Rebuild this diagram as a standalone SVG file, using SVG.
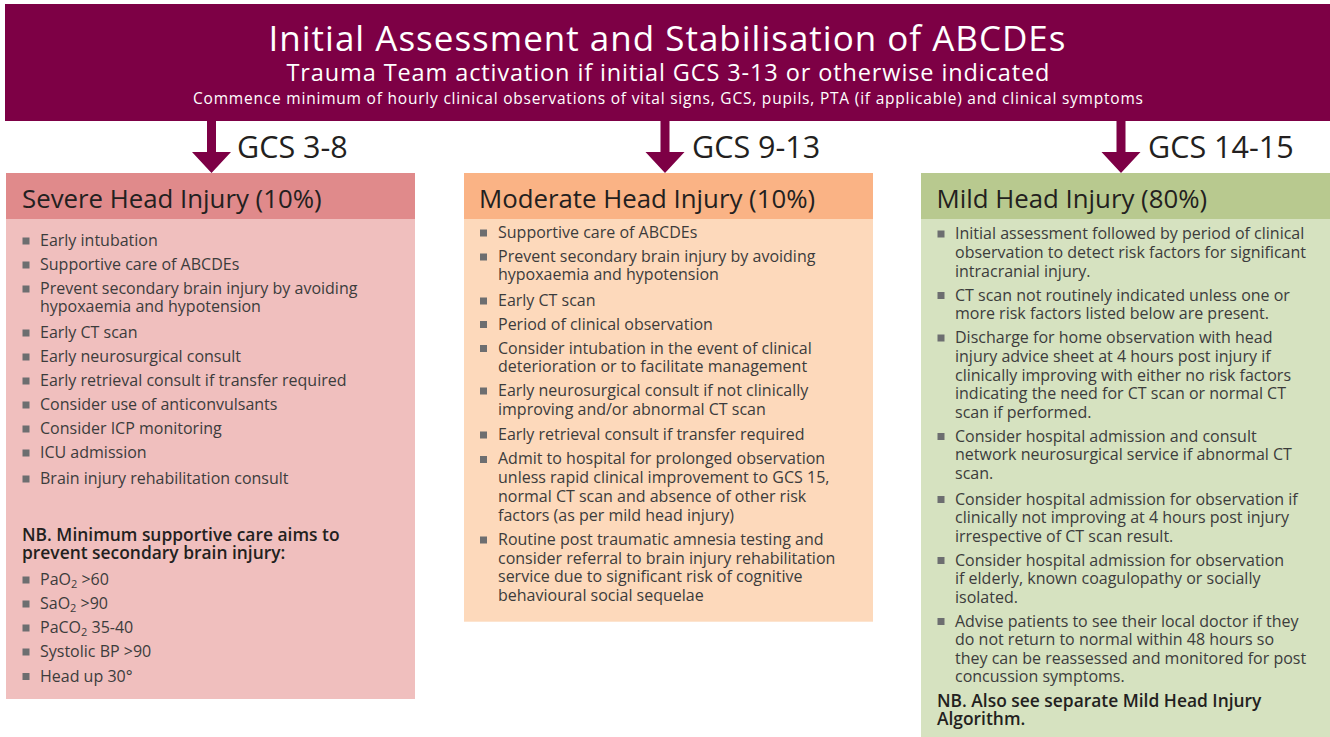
<svg xmlns="http://www.w3.org/2000/svg" width="1330" height="737" viewBox="0 0 1330 737">
  <style>
    text { font-family: "Open Sans", "Noto Sans", "Liberation Sans", sans-serif; }
    .hd { fill: #ffffff; text-anchor: middle; }
    .gcs { font-size: 30.5px; fill: #231f20; }
    .ttl { font-size: 25.8px; fill: #231f20; }
    .body { font-size: 16px; fill: #3c3c3c; }
    .nb { font-size: 17.4px; font-weight: 600; fill: #231f20; }
    .bul { fill: #6d6e70; }
    .arrow { fill: #7d0045; }
  </style>
  <defs>
    <rect id="sq" width="7" height="7" class="bul"/>
  </defs>

  <!-- top banner -->
  <g id="banner">
    <rect x="5" y="4" width="1325" height="117" fill="#7d0045"/>
    <text class="hd" x="667" y="50.5" font-size="35" textLength="797">Initial Assessment and Stabilisation of ABCDEs</text>
    <text class="hd" x="668" y="81" font-size="23.5" textLength="763">Trauma Team activation if initial GCS 3-13 or otherwise indicated</text>
    <text class="hd" x="668" y="104" font-size="15.5" textLength="950">Commence minimum of hourly clinical observations of vital signs, GCS, pupils, PTA (if applicable) and clinical symptoms</text>
  </g>

  <!-- arrows down to the three severity columns -->
  <g id="connectors">
    <polygon class="arrow" points="207,120 216,120 216,152 231,152 211.5,173 192,152 207,152"/>
    <polygon class="arrow" points="660.5,120 669.5,120 669.5,152 684.5,152 665,173 645.5,152 660.5,152"/>
    <polygon class="arrow" points="1116.5,120 1125.5,120 1125.5,152 1140.5,152 1121,173 1101.5,152 1116.5,152"/>
    <text class="gcs" x="237" y="158">GCS 3-8</text>
    <text class="gcs" x="692" y="158">GCS 9-13</text>
    <text class="gcs" x="1148" y="158">GCS 14-15</text>
  </g>

  <!-- severe column -->
  <g id="severe">
    <rect x="6" y="173" width="409" height="46" fill="#e08a8b"/>
    <rect x="6" y="219" width="409" height="480" fill="#f0bfbe"/>
    <text class="ttl" x="22" y="208">Severe Head Injury (10%)</text>
    <use href="#sq" x="22.5" y="237.5"/>
    <use href="#sq" x="22.5" y="261.5"/>
    <use href="#sq" x="22.5" y="285.5"/>
    <use href="#sq" x="22.5" y="329.5"/>
    <use href="#sq" x="22.5" y="353.5"/>
    <use href="#sq" x="22.5" y="377.5"/>
    <use href="#sq" x="22.5" y="401.5"/>
    <use href="#sq" x="22.5" y="425.5"/>
    <use href="#sq" x="22.5" y="449.5"/>
    <use href="#sq" x="22.5" y="475.5"/>
    <text class="body">
      <tspan x="40" y="246">Early intubation</tspan>
      <tspan x="40" y="270">Supportive care of ABCDEs</tspan>
      <tspan x="40" y="294">Prevent secondary brain injury by avoiding</tspan>
      <tspan x="40" y="312.3">hypoxaemia and hypotension</tspan>
      <tspan x="40" y="338.3">Early CT scan</tspan>
      <tspan x="40" y="362.3">Early neurosurgical consult</tspan>
      <tspan x="40" y="386.3">Early retrieval consult if transfer required</tspan>
      <tspan x="40" y="410.3">Consider use of anticonvulsants</tspan>
      <tspan x="40" y="434.3">Consider ICP monitoring</tspan>
      <tspan x="40" y="458.3">ICU admission</tspan>
      <tspan x="40" y="484">Brain injury rehabilitation consult</tspan>
    </text>
    <text class="nb">
      <tspan x="22" y="541">NB. Minimum supportive care aims to</tspan>
      <tspan x="22" y="559.3">prevent secondary brain injury:</tspan>
    </text>
    <use href="#sq" x="22.5" y="576.5"/>
    <use href="#sq" x="22.5" y="600.5"/>
    <use href="#sq" x="22.5" y="624.5"/>
    <use href="#sq" x="22.5" y="648.5"/>
    <use href="#sq" x="22.5" y="673"/>
    <text class="body" x="40" y="585">PaO<tspan font-size="11" dy="3">2</tspan><tspan dy="-3"> &gt;60</tspan></text>
    <text class="body" x="40" y="609">SaO<tspan font-size="11" dy="3">2</tspan><tspan dy="-3"> &gt;90</tspan></text>
    <text class="body" x="40" y="633.3">PaCO<tspan font-size="11" dy="3">2</tspan><tspan dy="-3"> 35-40</tspan></text>
    <text class="body" x="40" y="657.3">Systolic BP &gt;90</text>
    <text class="body" x="40" y="681.7">Head up 30°</text>
  </g>

  <!-- moderate column -->
  <g id="moderate">
    <rect x="464" y="173" width="409" height="46" fill="#fab385"/>
    <rect x="464" y="219" width="409" height="402.7" fill="#fdd9bb"/>
    <text class="ttl" x="479" y="208">Moderate Head Injury (10%)</text>
    <use href="#sq" x="480" y="229.5"/>
    <use href="#sq" x="480" y="253.5"/>
    <use href="#sq" x="480" y="297.5"/>
    <use href="#sq" x="480" y="321"/>
    <use href="#sq" x="480" y="345"/>
    <use href="#sq" x="480" y="387.5"/>
    <use href="#sq" x="480" y="431.5"/>
    <use href="#sq" x="480" y="456"/>
    <use href="#sq" x="480" y="536.5"/>
    <text class="body">
      <tspan x="498" y="237.7">Supportive care of ABCDEs</tspan>
      <tspan x="498" y="261.7">Prevent secondary brain injury by avoiding</tspan>
      <tspan x="498" y="280.3">hypoxaemia and hypotension</tspan>
      <tspan x="498" y="305.7">Early CT scan</tspan>
      <tspan x="498" y="329.5">Period of clinical observation</tspan>
      <tspan x="498" y="353.5">Consider intubation in the event of clinical</tspan>
      <tspan x="498" y="372">deterioration or to facilitate management</tspan>
      <tspan x="498" y="396">Early neurosurgical consult if not clinically</tspan>
      <tspan x="498" y="414.5">improving and/or abnormal CT scan</tspan>
      <tspan x="498" y="440">Early retrieval consult if transfer required</tspan>
      <tspan x="498" y="464.3">Admit to hospital for prolonged observation</tspan>
      <tspan x="498" y="483.2">unless rapid clinical improvement to GCS 15,</tspan>
      <tspan x="498" y="502.1">normal CT scan and absence of other risk</tspan>
      <tspan x="498" y="521">factors (as per mild head injury)</tspan>
      <tspan x="498" y="545">Routine post traumatic amnesia testing and</tspan>
      <tspan x="498" y="563.7">consider referral to brain injury rehabilitation</tspan>
      <tspan x="498" y="582.4">service due to significant risk of cognitive</tspan>
      <tspan x="498" y="601">behavioural social sequelae</tspan>
    </text>
  </g>

  <!-- mild column -->
  <g id="mild">
    <rect x="921" y="173" width="409" height="46" fill="#b8c98f"/>
    <rect x="921" y="219" width="409" height="518" fill="#d6e2c0"/>
    <text class="ttl" x="936.5" y="208">Mild Head Injury (80%)</text>
    <use href="#sq" x="937.5" y="230.5"/>
    <use href="#sq" x="937.5" y="292"/>
    <use href="#sq" x="937.5" y="334.5"/>
    <use href="#sq" x="937.5" y="433"/>
    <use href="#sq" x="937.5" y="496"/>
    <use href="#sq" x="937.5" y="557"/>
    <use href="#sq" x="937.5" y="618"/>
    <text class="body">
      <tspan x="955" y="239">Initial assessment followed by period of clinical</tspan>
      <tspan x="955" y="257.8">observation to detect risk factors for significant</tspan>
      <tspan x="955" y="276.6">intracranial injury.</tspan>
      <tspan x="955" y="300.7">CT scan not routinely indicated unless one or</tspan>
      <tspan x="955" y="319.2">more risk factors listed below are present.</tspan>
      <tspan x="955" y="343.3">Discharge for home observation with head</tspan>
      <tspan x="955" y="361.9">injury advice sheet at 4 hours post injury if</tspan>
      <tspan x="955" y="380.5">clinically improving with either no risk factors</tspan>
      <tspan x="955" y="399.1">indicating the need for CT scan or normal CT</tspan>
      <tspan x="955" y="417.7">scan if performed.</tspan>
      <tspan x="955" y="441.7">Consider hospital admission and consult</tspan>
      <tspan x="955" y="460.2">network neurosurgical service if abnormal CT</tspan>
      <tspan x="955" y="478.7">scan.</tspan>
      <tspan x="955" y="504.5">Consider hospital admission for observation if</tspan>
      <tspan x="955" y="523.1">clinically not improving at 4 hours post injury</tspan>
      <tspan x="955" y="541.7">irrespective of CT scan result.</tspan>
      <tspan x="955" y="565.7">Consider hospital admission for observation</tspan>
      <tspan x="955" y="584.2">if elderly, known coagulopathy or socially</tspan>
      <tspan x="955" y="602.7">isolated.</tspan>
      <tspan x="955" y="626.7">Advise patients to see their local doctor if they</tspan>
      <tspan x="955" y="645.3">do not return to normal within 48 hours so</tspan>
      <tspan x="955" y="663.9">they can be reassessed and monitored for post</tspan>
      <tspan x="955" y="682.4">concussion symptoms.</tspan>
    </text>
    <text class="nb">
      <tspan x="937" y="707">NB. Also see separate Mild Head Injury</tspan>
      <tspan x="937" y="724.5">Algorithm.</tspan>
    </text>
  </g>
</svg>
